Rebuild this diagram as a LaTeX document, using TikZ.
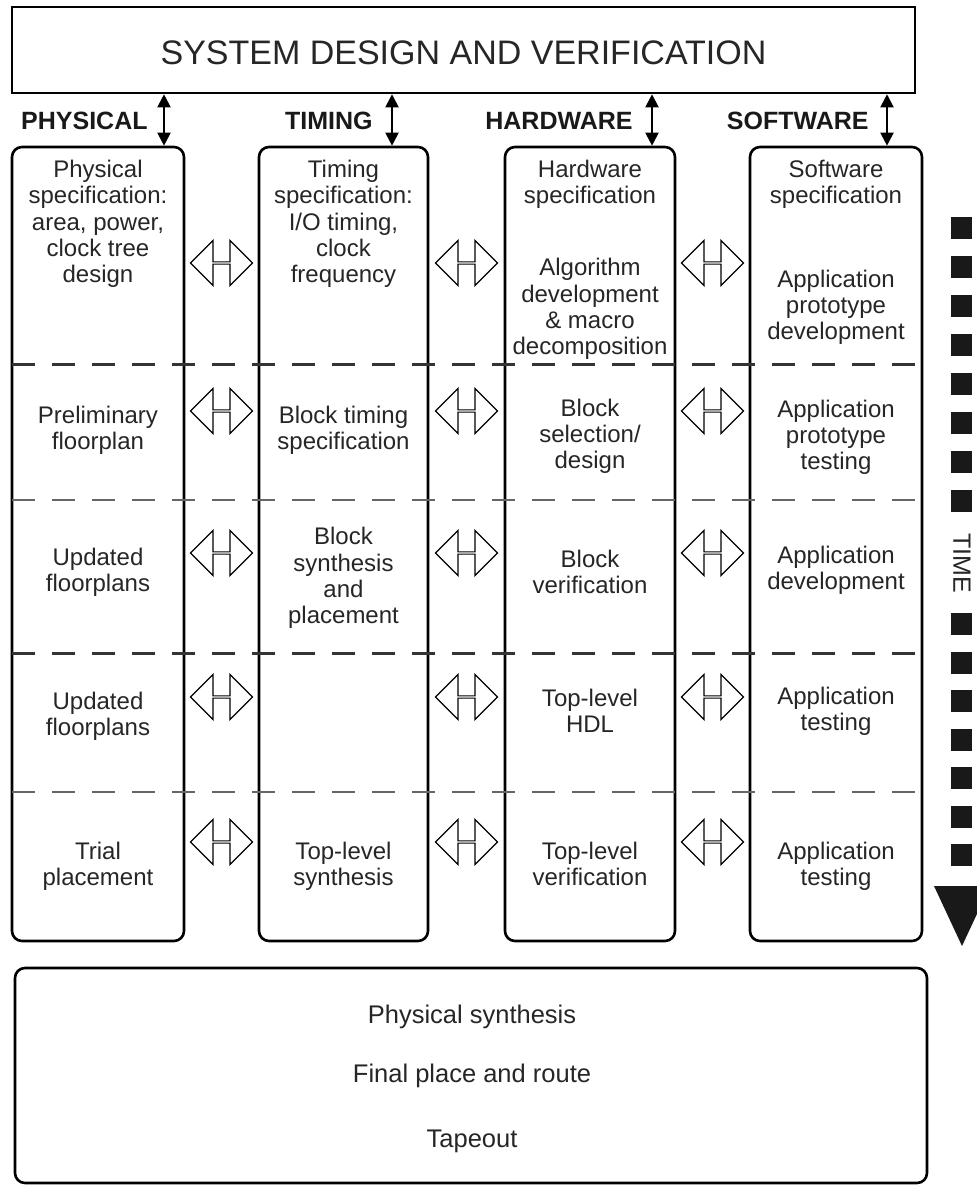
\documentclass[tikz,border=0pt]{standalone}
\usepackage{fontspec}
\setmainfont{Liberation Sans}
\usetikzlibrary{arrows.meta, positioning, shapes.arrows}

\begin{document}
\begin{tikzpicture}[
    x=0.5pt, y=-0.5pt,
    >={Triangle[length=6.5pt, width=6.5pt]},
    colbox/.style={draw, line width=1.3pt, rounded corners=5pt,
                   minimum width=#1, minimum height=397pt, inner sep=0pt},
    cell/.style={align=center, text=black!85, inner sep=0pt,
                 font=\fontsize{12}{13.1}\selectfont},
    lane/.style={anchor=base east, inner sep=0pt, text=black!90,
                 font=\fontsize{12.5}{14}\selectfont\bfseries},
    exch/.style={double arrow, draw, line width=0.6pt, fill=white,
                 double arrow tip angle=90, double arrow head extend=5.75pt,
                 minimum width=22.5pt, minimum height=31pt, inner sep=0pt},
    phase/.style={dash pattern=on 11.5pt off 8.5pt, line width=#1},
    timeblock/.style={fill=black!90, minimum width=10.5pt,
                      minimum height=11pt, inner sep=0pt},
    finalstep/.style={anchor=base, inner sep=0pt, text=black!85,
                      font=\fontsize{12.75}{14}\selectfont}
  ]
  \path[use as bounding box, fill=white] (0,0) rectangle (977,1186);

  % System level box
  \node[draw, line width=1.3pt, minimum width=451.5pt, minimum height=43pt,
        text height=15pt, text depth=0pt, text=black!85,
        font=\fontsize{17}{20}\selectfont] (sys) at (463.5,50)
    {SYSTEM DESIGN AND VERIFICATION};

  % The four lanes
  \node[colbox=86pt]   (phys) at (98,544) {};
  \node[colbox=84.5pt] (timg) at (343.5,544) {};
  \node[colbox=85pt]   (hard) at (590,544) {};
  \node[colbox=86pt]   (soft) at (836,544) {};

  \node[lane] (lphys) at (148,130) {PHYSICAL};
  \node[lane] (ltimg) at (373,130) {TIMING};
  \node[lane] (lhard) at (633,130) {HARDWARE};
  \node[lane] (lsoft) at (869,130) {SOFTWARE};

  \draw[<->, line width=1pt] (sys.south -| 164,0) -- (phys.north -| 164,0);
  \draw[<->, line width=1pt] (sys.south -| 392,0) -- (timg.north -| 392,0);
  \draw[<->, line width=1pt] (sys.south -| 652,0) -- (hard.north -| 652,0);
  \draw[<->, line width=1pt] (sys.south -| 887,0) -- (soft.north -| 887,0);

  % Phase separators
  \draw[phase=1.5pt, black!80] (12,365) -- (930,365);
  \draw[phase=1pt, black!60]   (12,500) -- (930,500);
  \draw[phase=1.5pt, black!80] (12,653) -- (930,653);
  \draw[phase=1pt, black!60]   (12,792) -- (930,792);

  % Exchanges between lanes
  \foreach \y [count=\r] in {263,411,553,697,842} {
    \node[exch] (pt\r) at (221.5,\y) {};
    \node[exch] (th\r) at (466.5,\y) {};
    \node[exch] (hs\r) at (712.5,\y) {};
  }

  % Physical
  \node[cell] (p1) at (98,224)
    {Physical\\specification:\\area, power,\\clock tree\\design};
  \node[cell] (p2) at (98,430) {Preliminary\\floorplan};
  \node[cell] (p3) at (98,572) {Updated\\floorplans};
  \node[cell] (p4) at (98,716) {Updated\\floorplans};
  \node[cell] (p5) at (98,866) {Trial\\placement};

  % Timing
  \node[cell] (t1) at (343.5,224)
    {Timing\\specification:\\I/O timing,\\clock\\frequency};
  \node[cell] (t2) at (343.5,430) {Block timing\\specification};
  \node[cell] (t3) at (343.5,578) {Block\\synthesis\\and\\placement};
  \node[cell] (t5) at (343.5,866) {Top-level\\synthesis};

  % Hardware
  \node[cell] (h0) at (590,184) {Hardware\\specification};
  \node[cell] (h1) at (590,309)
    {Algorithm\\development\\\& macro\\decomposition};
  \node[cell] (h2) at (590,436) {Block\\selection/\\design};
  \node[cell] (h3) at (590,572) {Block\\verification};
  \node[cell] (h4) at (590,711) {Top-level\\HDL};
  \node[cell] (h5) at (590,864) {Top-level\\verification};

  % Software
  \node[cell] (s0) at (836,184) {Software\\specification};
  \node[cell] (s1) at (836,307) {Application\\prototype\\development};
  \node[cell] (s2) at (836,437) {Application\\prototype\\testing};
  \node[cell] (s3) at (836,570) {Application\\development};
  \node[cell] (s4) at (836,711) {Application\\testing};
  \node[cell] (s5) at (836,866) {Application\\testing};

  % Time axis
  \foreach \y [count=\k] in {228,267,306,345,384,423,462,501}
    \node[timeblock] (ta\k) at (961,\y) {};
  \foreach \y [count=\k] in {624,662.5,701,739.5,778,816.5,855}
    \node[timeblock] (tb\k) at (961,\y) {};
  \node[rotate=-90, inner sep=0pt, text=black!85,
        font=\fontsize{12.5}{14}\selectfont] (time) at (962,563) {TIME};
  \fill[black!90] (934,886) -- (990,886) -- (962,946) -- cycle;

  % Back end
  \node[draw, line width=1.3pt, rounded corners=5pt, minimum width=456pt,
        minimum height=107.5pt] (back) at (471,1075.5) {};
  \node[finalstep] (psyn) at (472,1023) {Physical synthesis};
  \node[finalstep] (fpr)  at (472,1082) {Final place and route};
  \node[finalstep] (tape) at (472,1147) {Tapeout};
\end{tikzpicture}
\end{document}
